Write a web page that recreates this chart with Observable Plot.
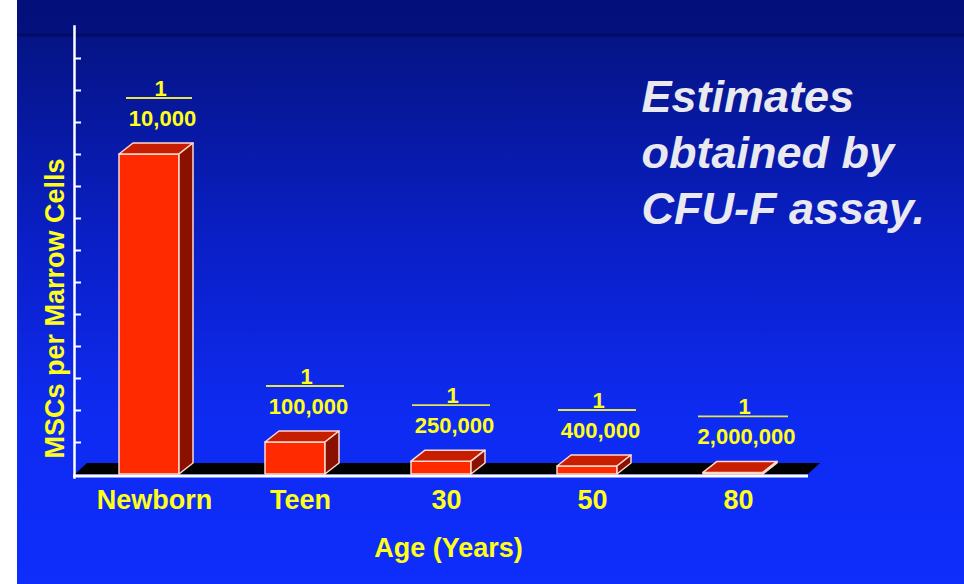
<!DOCTYPE html>
<html><head><meta charset="utf-8">
<script src="https://cdn.jsdelivr.net/npm/d3@7"></script>
<script src="https://cdn.jsdelivr.net/npm/@observablehq/plot@0.6"></script>
<style>html,body{margin:0;padding:0;background:#fff}</style>
</head><body><div id="chart"></div>
<script>
// ---- data ----
const ages = ["Newborn", "Teen", "30", "50", "80"];
const denominators = [10000, 100000, 250000, 400000, 2000000];
const denominatorLabels = ["10,000", "100,000", "250,000", "400,000", "2,000,000"];
const yTicks = [1e-5, 2e-5, 3e-5, 4e-5, 5e-5, 6e-5, 7e-5, 8e-5, 9e-5, 1e-4, 1.1e-4, 1.2e-4, 1.3e-4];
const titleLines = ["Estimates", "obtained by", "CFU-F assay."];
const yLabel = "MSCs per Marrow Cells";
const xLabel = "Age (Years)";

const rows = ages.map((age, i) => ({
  age, value: 1 / denominators[i], label: denominatorLabels[i]
}));

const YELLOW = "#ffff1a";
const FONT = "'Liberation Sans', Arial, Helvetica, sans-serif";
const DX = 14, DY = -11;

function bars3d(index, scales, values, dim) {
  const g = d3.create("svg:g");
  const bw = scales.x.bandwidth();
  const y0 = scales.y(0);
  const L = dim.marginLeft, R = dim.width - dim.marginRight;
  // black floor
  g.append("path")
    .attr("d", `M${L + 1},${y0}L${R},${y0}L${R + 12},${y0 - 11}L${L + 13},${y0 - 11}Z`)
    .attr("fill", "#000");
  for (const i of index) {
    const d = rows[i];
    const x0 = scales.x(d.age), x1 = x0 + bw, yt = scales.y(d.value);
    const faces = [
      [`M${x0},${y0}V${yt}H${x1}V${y0}Z`, "#ff2a00"],
      [`M${x0},${yt}L${x0 + DX},${yt + DY}H${x1 + DX}L${x1},${yt}Z`, "#c81e00"],
      [`M${x1},${y0}V${yt}L${x1 + DX},${yt + DY}V${y0 + DY}Z`, "#8a1000"]
    ];
    for (const [p, c] of faces) {
      g.append("path").attr("d", p).attr("fill", c)
        .attr("stroke", "#ffd8d0").attr("stroke-width", 1.5)
        .attr("stroke-linejoin", "round");
    }
    // fraction line, sized to the denominator
    const digits = d.label.replace(/,/g, "").length;
    const w = 6 + 12 * digits;
    const cx = x0 + bw / 2 + 10;
    const ly = yt - 56;
    g.append("line")
      .attr("x1", cx - w / 2).attr("x2", cx + w / 2)
      .attr("y1", ly).attr("y2", ly)
      .attr("stroke", "#e6e64c").attr("stroke-width", 1.8);
  }
  return g.node();
}

const plot = Plot.plot({
  width: 964,
  height: 584,
  marginLeft: 74,
  marginRight: 156,
  marginTop: 26,
  marginBottom: 110,
  style: {
    background: "linear-gradient(90deg, #ffffff 0 17px, transparent 17px 100%), linear-gradient(180deg, #03107a 0px, #04117e 33px, #020c66 34px, #020c66 36px, #051485 37px, #0a1fc6 240px, #0e2bf2 420px, #0f2dfb 584px)",
    fontFamily: FONT,
    fontWeight: "bold"
  },
  x: {domain: ages, paddingInner: 0.591, paddingOuter: 0.2955, label: null},
  y: {domain: [0, 1.4e-4], axis: null},
  marks: [
    Plot.ruleY([0], {stroke: "#ffffff", strokeWidth: 3, dy: 1.5, insetLeft: -1}),
    Plot.barY(rows, {x: "age", y: "value", render: bars3d}),
    Plot.frame({anchor: "left", stroke: "#ffffff", strokeWidth: 2.5, insetBottom: -3}),
    Plot.ruleY(yTicks, {stroke: "#ffffff", strokeWidth: 2, insetRight: 734 - 7}),
    Plot.axisX({tickSize: 0, tickPadding: 15, fontSize: 27, fontWeight: "bold", fill: YELLOW, dx: 5, label: null}),
    Plot.text([xLabel], {frameAnchor: "bottom", dx: 7, dy: 74, lineAnchor: "middle", fontSize: 27, fontWeight: "bold", fill: YELLOW}),
    Plot.text([yLabel], {frameAnchor: "left", rotate: -90, textAnchor: "middle", dx: -19, dy: 58, lineAnchor: "middle", fontSize: 27, fontWeight: "bold", fill: YELLOW}),
    Plot.text(rows, {x: "age", y: "value", text: () => "1", dx: 11, dy: -66, lineAnchor: "middle", fontSize: 22, fontWeight: "bold", fill: YELLOW}),
    Plot.text(rows, {x: "age", y: "value", text: "label", dx: 13, dy: -36, lineAnchor: "middle", fontSize: 22, fontWeight: "bold", fill: YELLOW}),
    Plot.text([titleLines.join("\n")], {frameAnchor: "top-left", dx: 567, dy: 46, lineAnchor: "top", textAnchor: "start", lineHeight: 1.24, fontSize: 45, fontStyle: "italic", fontWeight: "bold", fill: "#e9e9ef"})
  ]
});
document.getElementById("chart").appendChild(plot);
</script>
</body></html>
